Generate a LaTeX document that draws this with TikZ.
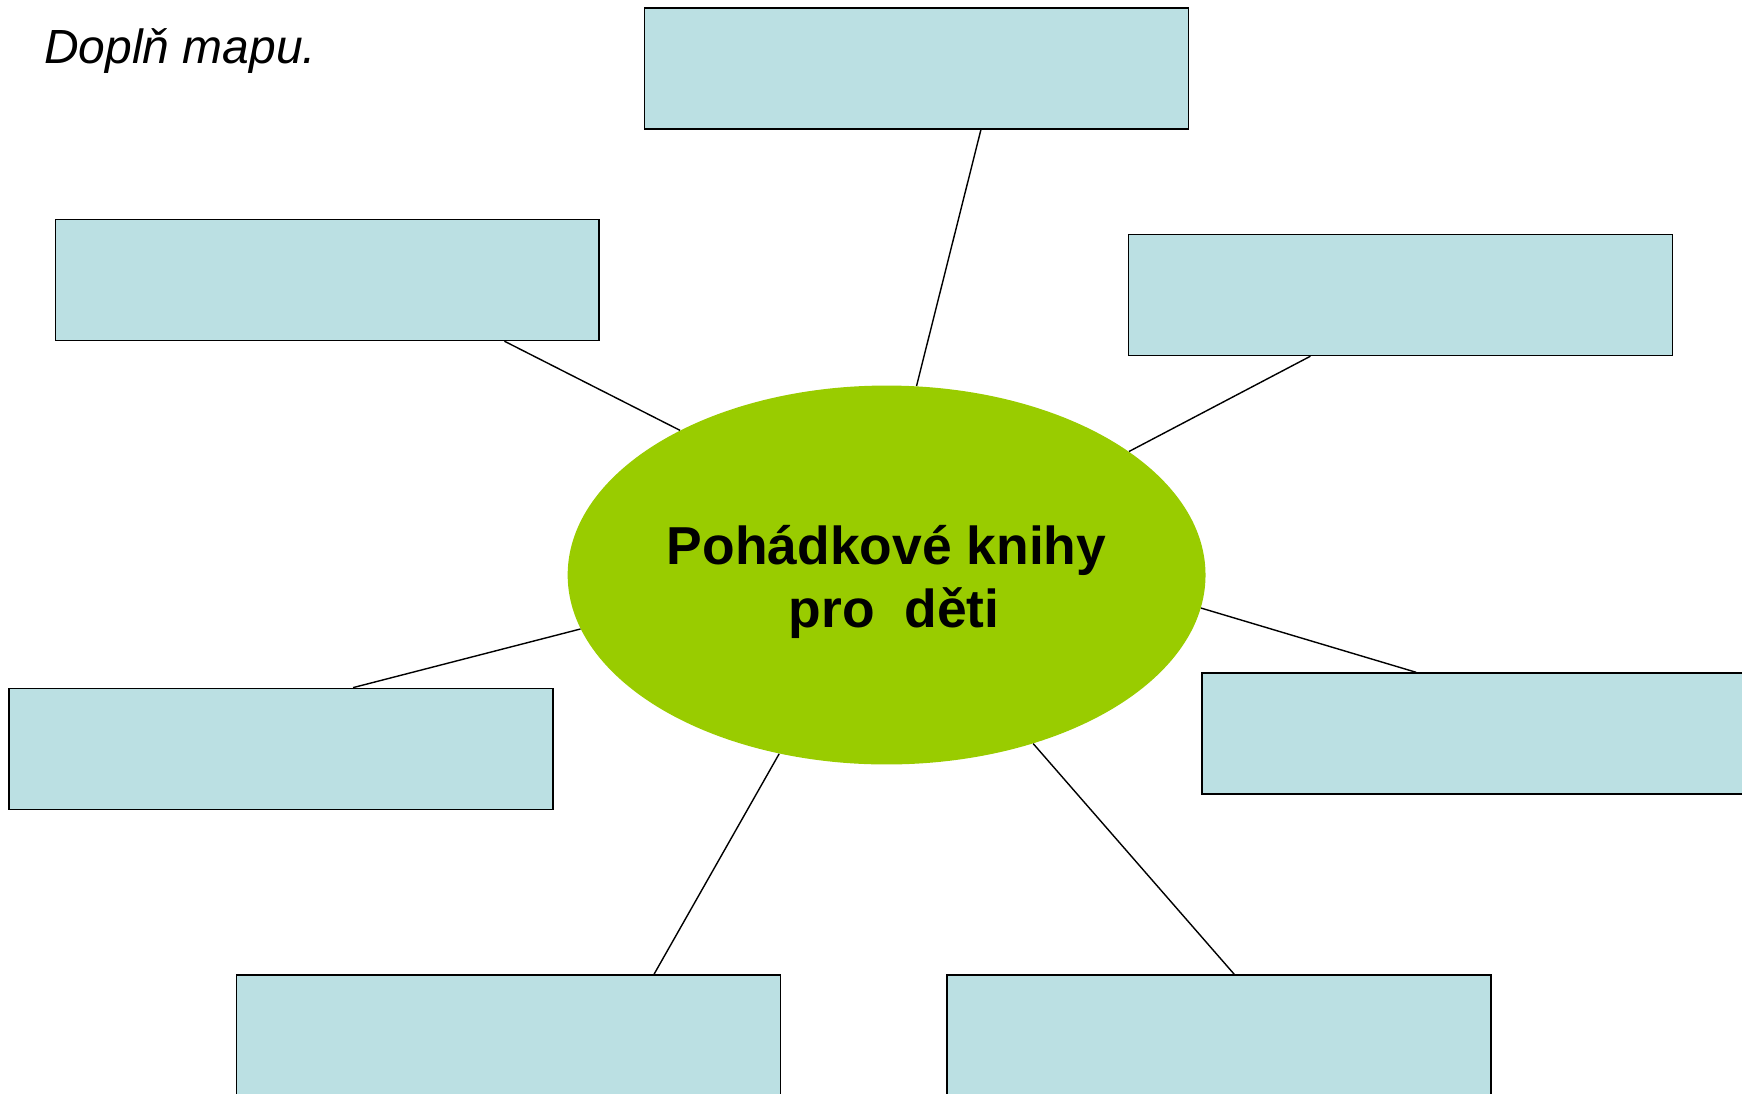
\documentclass[tikz,border=0pt]{standalone}
\usepackage{fontspec}
\setmainfont{Liberation Sans}
\usetikzlibrary{shapes.geometric, calc}

\definecolor{boxblue}{RGB}{187,224,227}
\definecolor{hubgreen}{RGB}{153,204,0}

\begin{document}
\begin{tikzpicture}[x=0.02cm, y=-0.02cm,
    blank/.style={draw, fill=boxblue, line width=0.8pt, minimum width=10.88cm,
        minimum height=2.42cm, inner sep=0pt},
    hub/.style={ellipse, fill=hubgreen, minimum width=12.76cm, minimum height=7.58cm,
        inner sep=0pt},
    title/.style={align=center, font=\fontsize{30.4}{35.4}\selectfont\bfseries},
    spoke/.style={line width=0.8pt}]
    \useasboundingbox (0, 0) rectangle (1742, 1093);

    \node [anchor=base west, inner sep=0pt, font=\fontsize{27.3}{32}\selectfont\itshape]
        (task) at (44, 63) {Doplň mapu.};

    \node [hub] (books) at (886.6, 575) {};
    \node [title] (booktitle) at ([yshift=-0.14cm]books.center)
        {Pohádkové knihy\\\hspace*{0.28em}pro~~děti};

    % empty boxes round the ellipse
    \node [blank] (top) at (916.6, 68.4) {};
    \node [blank] (upleft) at (327.2, 280) {};
    \node [blank] (upright) at (1400.4, 295) {};
    \node [blank] (left) at (281.1, 748.8) {};
    \node [blank] (right) at (1474, 733.5) {};
    \node [blank] (downleft) at (508.4, 1035.5) {};
    \node [blank] (downright) at (1219, 1035.5) {};

    \draw [spoke] (books.81) -- ($(top.south west)!0.618!(top.south east)$);
    \draw [spoke] (books.145.7) -- ($(upleft.south west)!0.825!(upleft.south east)$);
    \draw [spoke] (books.27.9) -- ($(upright.south west)!0.335!(upright.south east)$);
    \draw [spoke] (books.190) -- ($(left.north west)!0.632!(left.north east)$);
    \draw [spoke] (books.-6.9) -- ($(right.north west)!0.394!(right.north east)$);
    \draw [spoke] (books.239) -- ($(downleft.north west)!0.767!(downleft.north east)$);
    \draw [spoke] (books.-49) -- ($(downright.north west)!0.528!(downright.north east)$);

\end{tikzpicture}
\end{document}
